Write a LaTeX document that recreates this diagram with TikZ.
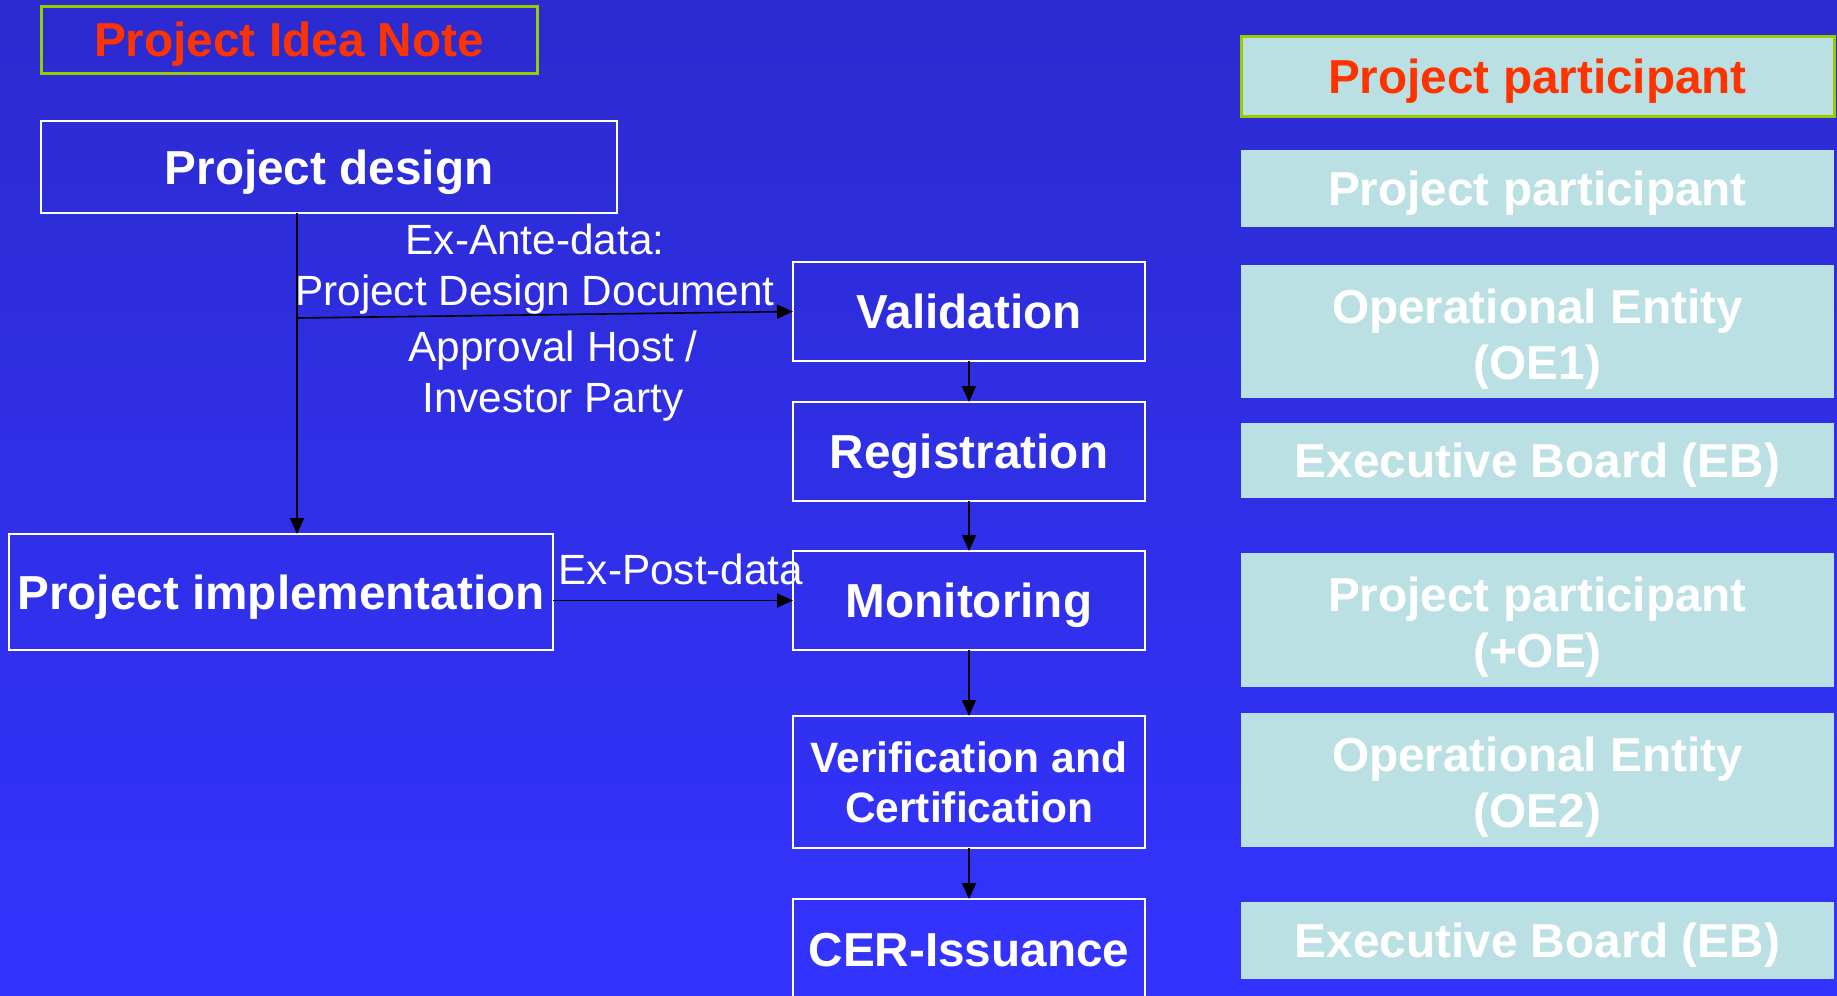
\documentclass[tikz,border=0pt]{standalone}
\usepackage{fontspec}
\setmainfont{Liberation Sans}
\usepackage{tikz}
\usetikzlibrary{arrows.meta}

\definecolor{bgtop}{RGB}{44,43,208}
\definecolor{bgbottom}{RGB}{51,51,255}
\definecolor{actorfill}{RGB}{187,224,227}
\definecolor{notered}{RGB}{255,51,0}
\definecolor{notegreen}{RGB}{153,204,0}

% taller first line, pushes two-line labels a bit down
\newcommand{\toprow}{\rule{0pt}{24.5pt}}

\begin{document}
\begin{tikzpicture}[x={(0.5pt,0pt)},y={(0pt,-0.5pt)},
  every node/.style={inner sep=0pt, outer sep=0pt},
  bigfont/.style={font=\bfseries\fontsize{23.85}{28}\selectfont},
  oneline/.style={text height=17.1pt, text depth=0pt},
  stage/.style={bigfont, draw=white, line width=1pt, text=white, minimum width=176pt, minimum height=49.5pt},
  actor/.style={bigfont, fill=actorfill, text=white, align=center, minimum width=296.5pt},
  header/.style={draw=notegreen, line width=1.5pt, text=notered},
  note/.style={text=white, align=center, font=\fontsize{21.15}{25.75}\selectfont},
  flow/.style={draw=black, line width=0.8pt, -{Triangle[length=8pt,width=7pt]}}]

% background
\path[use as bounding box] (0,0) rectangle (1837,996);
\clip (0,0) rectangle (1837,996);
\shade[top color=bgtop, bottom color=bgbottom] (0,0) rectangle (1837,996);

% project side
\node[bigfont, oneline, header, minimum width=248pt, minimum height=33.5pt] (idea) at (289,39.5) {Project Idea Note};
\node[stage, oneline, minimum width=288pt, minimum height=46pt] (design) at (329,167) {Project design};
\node[stage, oneline, minimum width=272pt, minimum height=58pt] (impl) at (281,592) {Project implementation};

% cycle steps
\node[stage, oneline] (val) at (969,311.5) {Validation};
\node[stage, oneline] (reg) at (969,451.5) {Registration};
\node[stage, oneline] (mon) at (969,600.5) {Monitoring};
\node[stage, align=center, minimum height=66pt, font=\bfseries\fontsize{21.25}{25}\selectfont] (ver) at (969,782) {Verification and\\Certification};
\node[stage, oneline, minimum height=50pt] (cer) at (969,949) {CER-Issuance};

% who does it
\node[actor, oneline, header, minimum height=40pt] (pp0) at (1537.5,76) {Project participant};
\node[actor, oneline, minimum height=38.3pt] (pp1) at (1537.5,188.3) {Project participant};
\node[actor, minimum height=66.5pt] (oe1) at (1537.5,331.5) {\toprow Operational Entity\\(OE1)};
\node[actor, oneline, minimum height=37.5pt] (eb1) at (1537.5,460.5) {Executive Board (EB)};
\node[actor, minimum height=67pt] (ppoe) at (1537.5,620) {\toprow Project participant\\(+OE)};
\node[actor, minimum height=67pt] (oe2) at (1537.5,780.3) {\toprow Operational Entity\\(OE2)};
\node[actor, oneline, minimum height=38.3pt] (eb2) at (1537.5,940.3) {Executive Board (EB)};

% data flow labels
\node[note] (ante) at (535,269) {Ex-Ante-data:\\Project Design Document};
\node[note] (approval) at (553,376) {Approval Host /\\Investor Party};
\node[note] (post) at (681,569) {Ex-Post-data};

% arrows
\coordinate (split) at (297,318);
\draw[flow] (split |- design.south) -- (split |- impl.north);
\draw[flow] (split) -- (val.west);
\draw[flow] (impl.east |- mon.west) -- (mon.west);
\draw[flow] (val.south) -- (reg.north);
\draw[flow] (reg.south) -- (mon.north);
\draw[flow] (mon.south) -- (ver.north);
\draw[flow] (ver.south) -- (cer.north);
\end{tikzpicture}
\end{document}
